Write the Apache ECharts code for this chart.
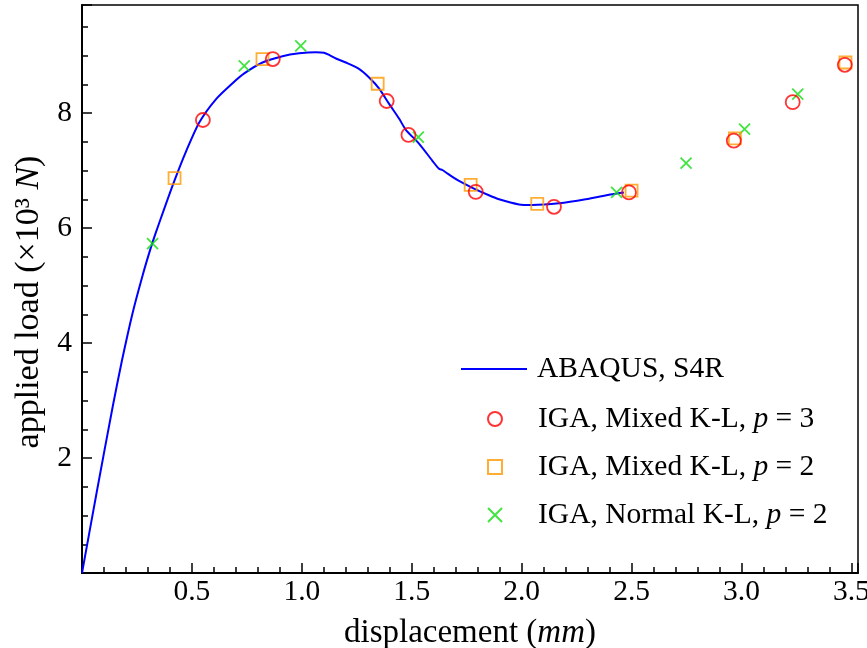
<!DOCTYPE html>
<html>
<head>
<meta charset="utf-8">
<script src="https://cdn.jsdelivr.net/npm/echarts@6/dist/echarts.min.js"></script>
<style>html,body{margin:0;padding:0;background:#fff;}#c{width:867px;height:648px;}</style>
</head>
<body>
<div id="c"></div>
<script>
// ABAQUS S4R reference curve
const abaqusX = [0,0.07,0.14,0.182,0.23,0.276,0.31,0.333,0.38,0.421,0.473,0.534,0.609,0.685,0.738,0.821,0.912,0.988,1.064,1.101,1.13,1.155,1.2,1.26,1.306,1.351,1.397,1.443,1.473,1.533,1.594,1.624,1.639,1.685,1.715,1.776,1.851,1.897,1.988,2.048,2.17,2.291,2.412,2.465];
const abaqusY = [0,1.47,2.90,3.70,4.52,5.18,5.62,5.89,6.40,6.83,7.33,7.84,8.24,8.52,8.69,8.88,8.99,9.04,9.06,9.05,9.00,8.95,8.88,8.77,8.62,8.43,8.16,7.90,7.71,7.47,7.17,7.03,7.01,6.89,6.82,6.70,6.57,6.50,6.41,6.40,6.43,6.50,6.59,6.62];
// IGA, Mixed K-L, p = 3
const mixedP3X = [0.550,0.868,1.386,1.485,1.791,2.147,2.488,2.965,3.233,3.470];
const mixedP3Y = [7.88,8.94,8.21,7.62,6.63,6.37,6.62,7.52,8.19,8.84];
// IGA, Mixed K-L, p = 2
const mixedP2X = [0.421,0.821,1.345,1.768,2.071,2.500,2.970,3.473];
const mixedP2Y = [6.87,8.94,8.51,6.75,6.42,6.65,7.56,8.88];
// IGA, Normal K-L, p = 2
const normalP2X = [0.321,0.738,0.995,1.530,2.432,2.748,3.014,3.256];
const normalP2Y = [5.73,8.82,9.17,7.58,6.62,7.13,7.72,8.33];
// axis ticks
const xTickLabels = ['0.5','1.0','1.5','2.0','2.5','3.0','3.5'];
const yTickLabels = ['2','4','6','8'];

const zip = (xs, ys) => xs.map((x, i) => [x, ys[i]]);
const FONT = 'Liberation Serif';
const names = ['ABAQUS, S4R','IGA, Mixed K-L, p = 3','IGA, Mixed K-L, p = 2','IGA, Normal K-L, p = 2'];
const crossPath = 'path://M0,0L10,10M10,0L0,10';
const TITLE_FS = 33, TICK_FS = 29.5, LEG_FS = 29.5;

const chart = echarts.init(document.getElementById('c'), null, {renderer: 'canvas'});
chart.setOption({
  animation: false,
  backgroundColor: '#fff',
  grid: {left: 82, right: 9, top: 5, bottom: 75, show: true, borderColor: '#000', borderWidth: 1.5,
    containLabel: false, outerBoundsMode: 'none'},
  xAxis: {
    type: 'value', min: 0, max: 3.53, interval: 0.5,
    name: 'displacement ({i|mm})', nameLocation: 'middle', nameGap: 44,
    nameTextStyle: {fontFamily: FONT, fontSize: TITLE_FS, color: '#000', rich: {i: {fontFamily: FONT, fontSize: TITLE_FS, fontStyle: 'italic', color: '#000'}}},
    axisLine: {lineStyle: {color: '#000', width: 2}},
    axisTick: {inside: true, length: 10, lineStyle: {color: '#000', width: 1.5}},
    minorTick: {show: true, splitNumber: 5, length: 6, lineStyle: {color: '#000', width: 1.5}},
    splitLine: {show: false},
    axisLabel: {showMinLabel: false, showMaxLabel: false, margin: 4, fontFamily: FONT, fontSize: TICK_FS, color: '#000',
      formatter: v => { const s = v.toFixed(1); return xTickLabels.includes(s) ? s : ''; }}
  },
  yAxis: {
    type: 'value', min: 0, max: 9.88, interval: 2,
    name: 'applied load (×10³ {i|N})', nameLocation: 'middle', nameGap: 31,
    nameTextStyle: {fontFamily: FONT, fontSize: 34, color: '#000', padding: [0, 26, 0, 0],
      rich: {i: {fontFamily: FONT, fontSize: 34, fontStyle: 'italic', color: '#000'}}},
    axisLine: {lineStyle: {color: '#000', width: 2}},
    axisTick: {inside: true, length: 10, lineStyle: {color: '#000', width: 1.5}},
    minorTick: {show: true, splitNumber: 4, length: 6, lineStyle: {color: '#000', width: 1.5}},
    splitLine: {show: false},
    axisLabel: {showMinLabel: false, showMaxLabel: false, margin: 10, fontFamily: FONT, fontSize: TICK_FS, color: '#000',
      formatter: v => { const s = String(v); return yTickLabels.includes(s) ? s : ''; }}
  },
  legend: [
    {data: [{name: names[0], icon: 'rect'}], left: 456, top: 349, orient: 'vertical', itemWidth: 66, itemHeight: 2,
     textStyle: {fontFamily: FONT, fontSize: LEG_FS, color: '#000', padding: [0,0,0,5]}},
    {data: names.slice(1), left: 482, top: 399, orient: 'vertical', itemWidth: 14, itemHeight: 14, itemGap: 18,
     formatter: n => n.replace('p =', '{i|p} ='),
     textStyle: {fontFamily: FONT, fontSize: LEG_FS, color: '#000', padding: [0,0,0,31],
       rich: {i: {fontFamily: FONT, fontSize: LEG_FS, fontStyle: 'italic', color: '#000'}}}}
  ],
  series: [
    {name: names[0], type: 'line', data: zip(abaqusX, abaqusY), symbol: 'none', smooth: 0.25,
     lineStyle: {color: '#0000ff', width: 2}, itemStyle: {color: '#0000ff'}, z: 2},
    {name: names[1], type: 'scatter', data: zip(mixedP3X, mixedP3Y), symbol: 'circle', symbolSize: 14,
     itemStyle: {color: 'rgba(0,0,0,0)', borderColor: '#ff0000', borderWidth: 1.8}, z: 6},
    {name: names[2], type: 'scatter', data: zip(mixedP2X, mixedP2Y), symbol: 'rect', symbolSize: 12,
     itemStyle: {color: 'rgba(0,0,0,0)', borderColor: '#ff9a00', borderWidth: 1.8}, z: 5},
    {name: names[3], type: 'scatter', data: zip(normalP2X, normalP2Y), symbol: crossPath, symbolSize: 11,
     itemStyle: {color: 'rgba(0,0,0,0)', borderColor: '#11dd11', borderWidth: 1.8}, z: 4}
  ]
});
</script>
</body>
</html>
